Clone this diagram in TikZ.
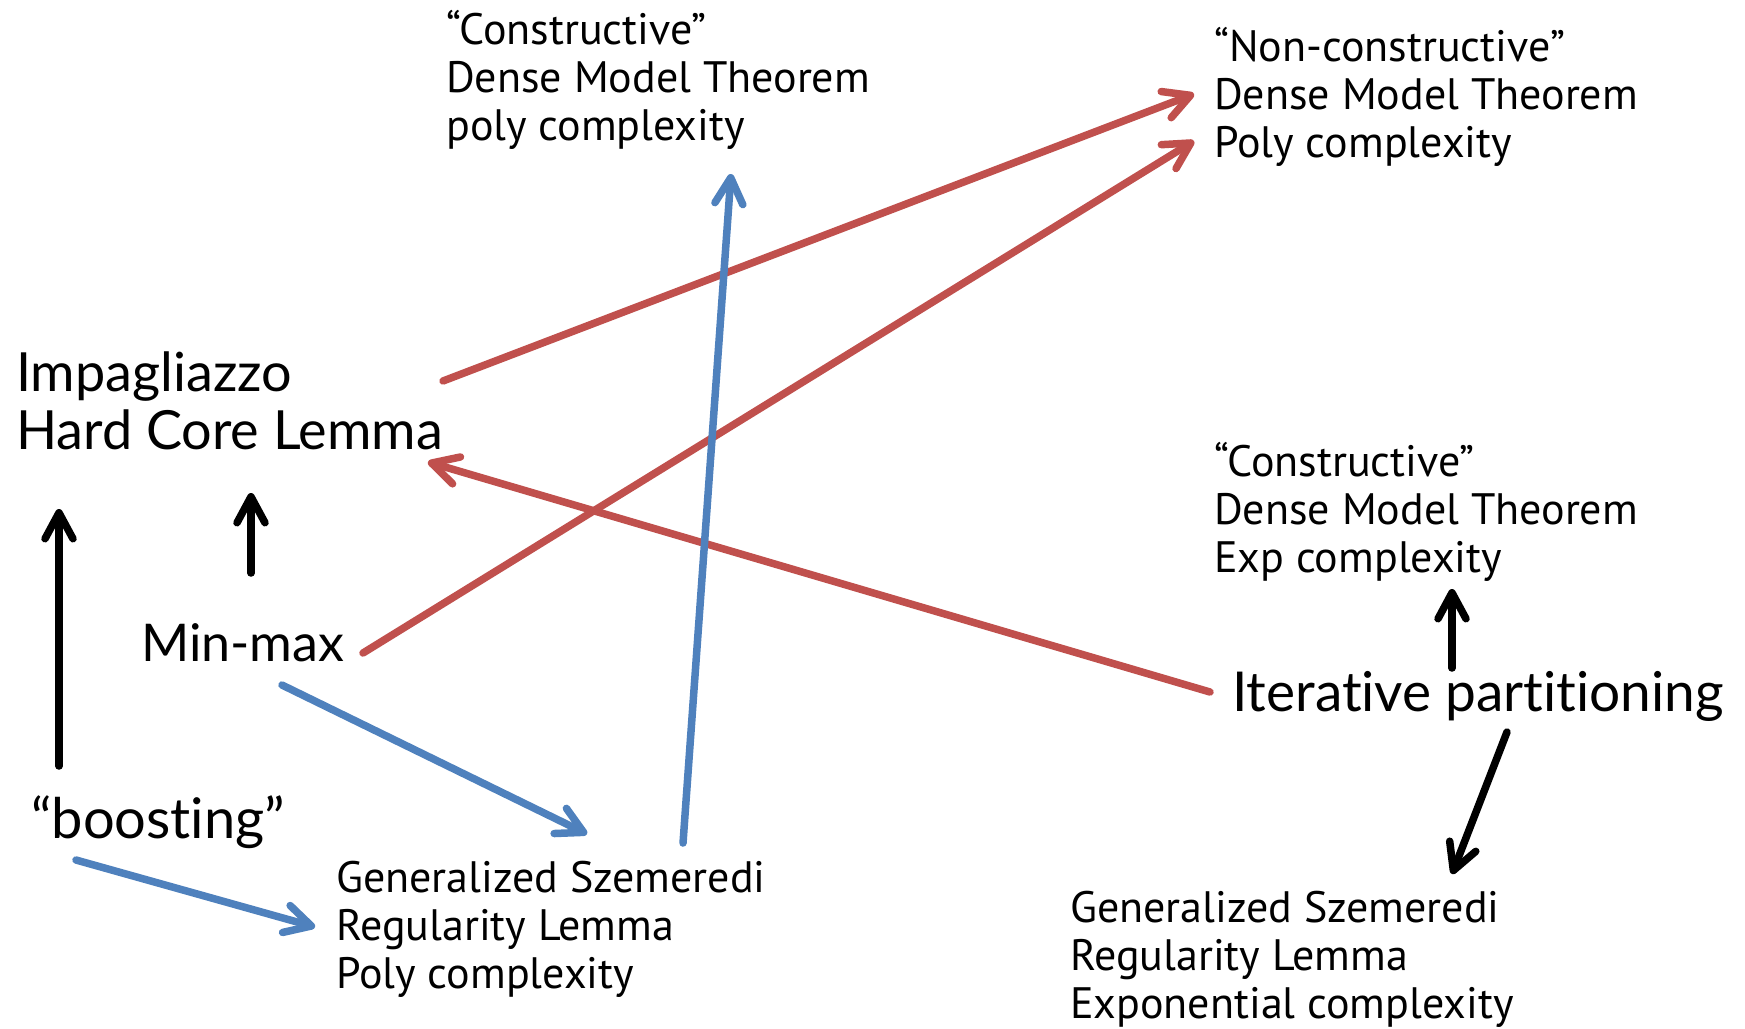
\documentclass[tikz,border=0pt]{standalone}
\usepackage{fontspec}
\newfontfamily\bigf[Ligatures={NoCommon,NoRequired,NoContextual}]{Lato}
\newfontfamily\smallf{PT Sans}
\usetikzlibrary{arrows.meta}
\definecolor{cred}{HTML}{C0504D}
\definecolor{cblue}{HTML}{4F81BD}
\newcommand{\nl}{\kern0pt }
\begin{document}
\begin{tikzpicture}[x=1pt,y=-1pt,
  lbl/.style={inner sep=0pt, anchor=base west},
  big/.style={lbl, font=\bigf\fontsize{54}{58}\selectfont},
  small/.style={lbl, font=\smallf\fontsize{44}{48}\selectfont},
  conn/.style={line width=7.5pt, line cap=round, -{Straight Barb[length=26pt,width=28pt,round]}},
  redc/.style={conn, draw=cred},
  bluec/.style={conn, draw=cblue},
  blackc/.style={conn, draw=black}]
\useasboundingbox (0,0) rectangle (1745,1028);

% text nodes
\node[small] (cpoly) at (446,44) {\begin{tabular}[t]{@{}l@{}}“Constructive”\\Dense Model Theorem\\poly complexity\end{tabular}};
\node[small] (ncons) at (1214,61) {\begin{tabular}[t]{@{}l@{}}“Non-constructive”\\Dense Model Theorem\\Poly complexity\end{tabular}};
\node[big] (impag) at (16,391) {\begin{tabular}[t]{@{}l@{}}Impagliazzo\\Hard Core Lemma\end{tabular}};
\node[small] (cexp) at (1214,476) {\begin{tabular}[t]{@{}l@{}}“Constructive”\\Dense Model Theorem\\Exp complexity\end{tabular}};
\node[big, font=\bigf\fontsize{52}{58}\selectfont] (minmax) at (141,661) {Min-max};
\node[big, font=\bigf\fontsize{55}{58}\selectfont] (iter) at (1232,711) {Iterative part\nl it\nl ioning};
\node[big, font=\bigf\fontsize{56}{58}\selectfont] (boost) at (31,838) {“boost\nl ing”};
\node[small] (gpoly) at (336,892) {\begin{tabular}[t]{@{}l@{}}Generalized Szemeredi\\Regularity Lemma\\Poly complexity\end{tabular}};
\node[small] (gexp) at (1070,922) {\begin{tabular}[t]{@{}l@{}}Generalized Szemeredi\\Regularity Lemma\\Exponential complexity\end{tabular}};

% connector end points
\coordinate (impagOut) at (443,381);
\coordinate (ncIn1) at (1194,94);
\coordinate (mmOutR) at (363,653);
\coordinate (ncIn2) at (1194,141);
\coordinate (iterOutL) at (1210,692);
\coordinate (impagIn) at (428,462);
\coordinate (gpOutUp) at (683,843);
\coordinate (cpIn) at (731,174);
\coordinate (mmOutB) at (282,685);
\coordinate (gpIn1) at (587,834);
\coordinate (boOut) at (76,860);
\coordinate (gpIn2) at (315,927);
\coordinate (boUp) at (59,766);
\coordinate (impagIn2) at (59,509);
\coordinate (mmUp) at (251,573);
\coordinate (impagIn3) at (251,493);
\coordinate (iterUp) at (1452,668);
\coordinate (ceIn) at (1452,589);
\coordinate (iterDown) at (1507,732);
\coordinate (geIn) at (1452,874);

% red connectors
\draw[redc] (impagOut) -- (ncIn1);
\draw[redc] (mmOutR) -- (ncIn2);
\draw[redc] (iterOutL) -- (impagIn);
% blue connectors
\draw[bluec] (gpOutUp) -- (cpIn);
\draw[bluec] (mmOutB) -- (gpIn1);
\draw[bluec] (boOut) -- (gpIn2);
% black connectors
\draw[blackc] (boUp) -- (impagIn2);
\draw[blackc] (mmUp) -- (impagIn3);
\draw[blackc] (iterUp) -- (ceIn);
\draw[blackc] (iterDown) -- (geIn);
\end{tikzpicture}
\end{document}
